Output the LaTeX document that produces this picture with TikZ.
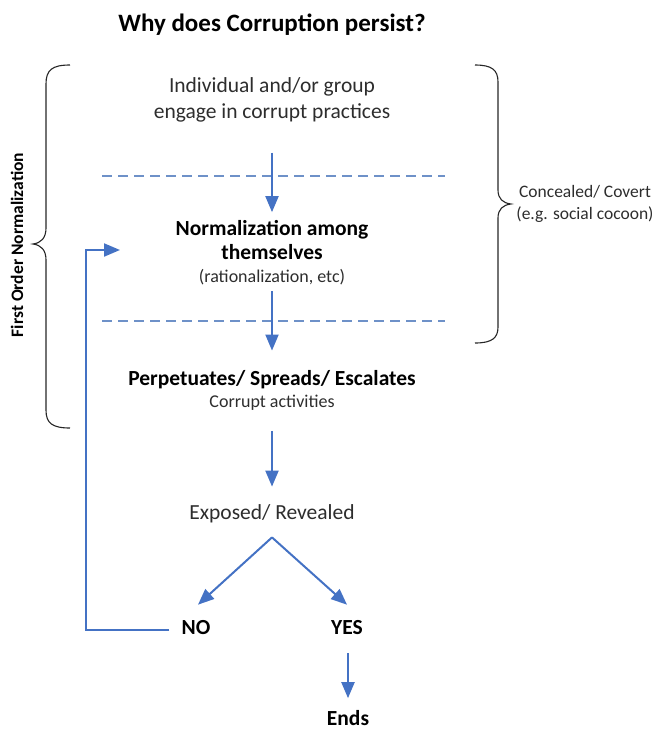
\documentclass[tikz,border=0pt]{standalone}
\usepackage{fontspec}
\setmainfont{Carlito}
\usetikzlibrary{arrows.meta,calc}
\definecolor{arrblue}{RGB}{68,114,196}
\definecolor{dashblue}{RGB}{110,145,200}
\definecolor{txt}{RGB}{45,45,45}
\tikzset{
  arr/.style={draw=arrblue,line width=2pt,-{Triangle[length=16pt,width=13pt]}},
  dashline/.style={draw=dashblue,line width=1.2pt,dash pattern=on 10pt off 6pt},
  bracestyle/.style={draw=black!85,line width=1.1pt},
  body/.style={font=\fontsize{21.5}{26}\selectfont,text=txt,align=center,inner sep=2pt},
  boldtxt/.style={font=\fontsize{21.5}{24}\selectfont\bfseries,text=black,align=center,inner sep=2pt},
  smalltxt/.style={font=\fontsize{18}{21}\selectfont,text=txt,inner sep=2pt},
}
\begin{document}
\begin{tikzpicture}[x=1pt,y=-1pt]
\useasboundingbox (0,0) rectangle (659,734);
% title
\node[font=\fontsize{25}{30}\selectfont\bfseries] (title) at (272,25) {Why does Corruption persist?};
% nodes
\node[body] (ind) at (272,100) {Individual and/or group\\engage in corrupt practices};
\node[boldtxt] (norm) at (272,240) {Normalization among\\themselves};
\node[smalltxt] (rat) at (272,277) {(rationalization, etc)};
\node[boldtxt] (perp) at (272,380) {Perpetuates/ Spreads/ Escalates};
\node[smalltxt] (corr) at (272,403) {Corrupt activities};
\node[body] (exp) at (272,514) {Exposed/ Revealed};
\node[boldtxt] (no) at (196,628) {NO};
\node[boldtxt] (yes) at (347,628) {YES};
\node[boldtxt] (ends) at (348,718) {Ends};
\node[font=\fontsize{17.5}{22}\selectfont,text=txt,align=center] (conc) at (585,204) {Concealed/ Covert\\(e.g. social cocoon)};
\node[font=\fontsize{17.5}{20}\selectfont\bfseries,rotate=90] (first) at (17,245) {First Order Normalization};
% dashed separators
\draw[dashline] (102,176) -- (445,176);
\draw[dashline] (102,321) -- (445,321);
% braces
\draw[bracestyle] (70,65) .. controls (52,65) and (46,70) .. (46,84) -- (46,228) .. controls (46,238) and (41,243) .. (33,244) .. controls (41,245) and (46,250) .. (46,260) -- (46,410) .. controls (46,423) and (52,428) .. (70,428);
\draw[bracestyle] (475,65) .. controls (492,65) and (498,70) .. (498,82) -- (498,190) .. controls (498,199) and (503,203) .. (511,204) .. controls (503,205) and (498,209) .. (498,218) -- (498,327) .. controls (498,338) and (492,343) .. (475,343);
% arrows
\draw[arr] ($(ind.south)+(0,28)$) -- ($(norm.north)+(0,-6)$);
\draw[arr] ($(rat.south)+(0,4)$) -- ($(perp.north)+(0,-18)$);
\draw[arr] ($(corr.south)+(0,18)$) -- ($(exp.north)+(0,-16)$);
\coordinate (apex) at ($(exp.south)+(0,12)$);
\draw[arr] (apex) -- ($(no.north)+(2,-14)$);
\draw[arr] (apex) -- ($(yes.north)+(0,-14)$);
\draw[arr] ($(yes.south)+(1,16)$) -- ($(ends.north)+(0,-10)$);
% feedback loop
\coordinate (fbx) at (86,0);
\coordinate (fbend) at (120,250);
\draw[arr] ($(no.west)+(-10,2)$) -| (fbx |- fbend) -- (fbend);
\end{tikzpicture}
\end{document}
